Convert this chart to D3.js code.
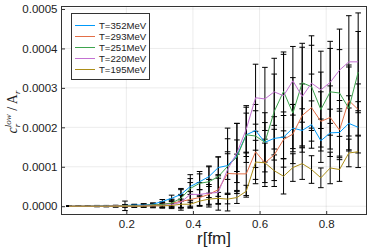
<!DOCTYPE html>
<html><head><meta charset="utf-8">
<script src="https://cdn.jsdelivr.net/npm/d3@7"></script>
<style>body{margin:0;background:#fff} svg{display:block}</style>
</head><body>
<svg id="c" width="374" height="249"></svg>
<script>
const r = [0.028,0.056,0.084,0.112,0.14,0.168,0.196,0.224,0.252,0.28,0.308,0.336,0.364,0.392,0.42,0.448,0.476,0.504,0.532,0.56,0.588,0.616,0.644,0.672,0.7,0.728,0.756,0.784,0.812,0.84,0.868,0.896];
const seriesNames = ["T=352MeV","T=293MeV","T=251MeV","T=220MeV","T=195MeV"];
const colors = ["#009afa","#e36f47","#3ea44e","#c371d2","#ac8e18"];

const v352 = [0,0,0,1e-6,1e-6,1e-6,2e-6,3e-6,3e-6,5e-6,1.2e-5,2.0e-5,3.0e-5,5.0e-5,6.2e-5,7.5e-5,9.8e-5,1.03e-4,1.28e-4,1.81e-4,1.92e-4,1.62e-4,1.72e-4,1.75e-4,1.98e-4,1.92e-4,2.07e-4,1.66e-4,1.86e-4,1.87e-4,2.10e-4,2.00e-4];
const e352 = [5e-7,5e-7,5e-7,1e-6,1e-6,1e-6,2e-6,2e-6,3e-6,3e-6,5e-6,8e-6,1.2e-5,2.0e-5,2.0e-5,2.5e-5,2.7e-5,3.5e-5,4.0e-5,5.5e-5,5.0e-5,5.0e-5,5.5e-5,5.5e-5,6.0e-5,5.5e-5,6.0e-5,5.5e-5,6.0e-5,6.0e-5,7.0e-5,6.5e-5];

const v293 = [0,0,0,0,0,1e-6,1e-6,1e-6,2e-6,3e-6,5e-6,8e-6,1.2e-5,1.7e-5,2.2e-5,3.0e-5,4.2e-5,8.3e-5,8.2e-5,8.2e-5,1.38e-4,1.10e-4,1.30e-4,1.69e-4,1.83e-4,2.30e-4,2.50e-4,2.15e-4,2.25e-4,1.93e-4,2.68e-4,2.45e-4];
const e293 = [5e-7,5e-7,5e-7,1e-6,1e-6,1e-6,2e-6,2e-6,3e-6,3e-6,5e-6,8e-6,1.5e-5,2.0e-5,2.0e-5,2.5e-5,3.5e-5,5.0e-5,5.0e-5,5.5e-5,7.0e-5,6.0e-5,6.5e-5,7.0e-5,7.5e-5,8.0e-5,8.5e-5,7.5e-5,8.0e-5,7.5e-5,9.0e-5,6.5e-5];

const v251 = [0,0,0,0,0,0,1e-6,1e-6,2e-6,3e-6,4e-6,8e-6,2.0e-5,4.5e-5,5.8e-5,6.2e-5,7.5e-5,1.01e-4,1.25e-4,1.81e-4,1.78e-4,1.62e-4,2.40e-4,2.91e-4,2.36e-4,3.13e-4,3.03e-4,2.45e-4,2.90e-4,2.87e-4,2.48e-4,3.40e-4];
const e251 = [5e-7,5e-7,5e-7,1e-6,1e-6,2e-6,1.2e-5,3e-6,4e-6,5e-6,7e-6,1.0e-5,2.5e-5,3.5e-5,3.0e-5,4.0e-5,5.0e-5,7.0e-5,8.5e-5,7.0e-5,8.0e-5,7.5e-5,9.5e-5,1.0e-4,9.0e-5,1.0e-4,1.05e-4,9.5e-5,1.1e-4,1.1e-4,1.05e-4,1.03e-4];

const v220 = [0,0,0,0,0,0,0,0,1e-6,1e-6,2e-6,4e-6,1.0e-5,3.0e-5,3.0e-5,3.3e-5,3.5e-5,9.3e-5,1.35e-4,1.95e-4,2.75e-4,2.72e-4,2.90e-4,2.80e-4,3.18e-4,2.78e-4,3.12e-4,2.95e-4,3.14e-4,3.45e-4,3.66e-4,3.66e-4];
const e220 = [5e-7,5e-7,5e-7,1e-6,1e-6,2e-6,3e-6,3e-6,4e-6,5e-6,7e-6,1.0e-5,2.0e-5,3.0e-5,3.0e-5,3.5e-5,4.5e-5,1.05e-4,7.5e-5,6.0e-5,8.5e-5,8.0e-5,8.5e-5,1.05e-4,8.7e-5,1.25e-4,1.2e-4,9.8e-5,1.04e-4,1.04e-4,1.17e-4,1.24e-4];

const v195 = [0,0,0,0,0,0,0,0,0,1e-6,1e-6,2e-6,5e-6,5e-6,1.3e-5,1.8e-5,2.0e-5,1.8e-5,2.2e-5,3.8e-5,1.12e-4,1.10e-4,9.0e-5,7.6e-5,9.8e-5,1.08e-4,9.3e-5,7.2e-5,9.7e-5,9.3e-5,1.35e-4,1.38e-4];
const e195 = [5e-7,5e-7,5e-7,5e-7,1e-6,1e-6,1e-6,2e-6,2e-6,3e-6,4e-6,5e-6,8e-6,1.0e-5,1.2e-5,1.5e-5,1.5e-5,1.2e-5,1.5e-5,1.5e-5,5.5e-5,5.0e-5,4.0e-5,4.5e-5,3.5e-5,4.0e-5,3.5e-5,2.5e-5,4.0e-5,3.0e-5,3.5e-5,4.0e-5];

const yTicks = [0,0.0001,0.0002,0.0003,0.0004,0.0005];
const yTickLabels = ["0.0000","0.0001","0.0002","0.0003","0.0004","0.0005"];
const xTicks = [0.2,0.4,0.6,0.8];
const xTickLabels = ["0.2","0.4","0.6","0.8"];

const values = [v352,v293,v251,v220,v195];
const errors = [e352,e293,e251,e220,e195];

const svg = d3.select("#c");
const L=61.5, R=366.5, T=6.5, B=214.5;
const x = d3.scaleLinear().domain([0.0054,0.921]).range([L,R]);
const y = d3.scaleLinear().domain([-0.000021,0.0005063]).range([B,T]);
const font = "'Liberation Sans', Arial, Helvetica, sans-serif";

// grid
const g = svg.append("g");
g.selectAll(".gx").data(xTicks).enter().append("line")
  .attr("x1",d=>x(d)).attr("x2",d=>x(d)).attr("y1",T).attr("y2",B)
  .attr("stroke","#000").attr("stroke-opacity",0.1).attr("stroke-width",0.8);
g.selectAll(".gy").data(yTicks).enter().append("line")
  .attr("x1",L).attr("x2",R).attr("y1",d=>y(d)).attr("y2",d=>y(d))
  .attr("stroke","#000").attr("stroke-opacity",0.1).attr("stroke-width",0.8);

// series
const plot = svg.append("g");
values.forEach((vals,s)=>{
  const errs = errors[s];
  const eb = plot.append("g");
  r.forEach((rv,i)=>{
    const lo = y(vals[i]-errs[i]), hi = y(vals[i]+errs[i]), cx = x(rv);
    eb.append("line").attr("x1",cx).attr("x2",cx).attr("y1",lo).attr("y2",hi).attr("stroke","#000").attr("stroke-width",1);
    eb.append("line").attr("x1",cx-2.8).attr("x2",cx+2.8).attr("y1",lo).attr("y2",lo).attr("stroke","#000").attr("stroke-width",1);
    eb.append("line").attr("x1",cx-2.8).attr("x2",cx+2.8).attr("y1",hi).attr("y2",hi).attr("stroke","#000").attr("stroke-width",1);
  });
});
values.forEach((vals,s)=>{
  const line = d3.line().x((d,i)=>x(r[i])).y(d=>y(d));
  plot.append("path").datum(vals).attr("d",line).attr("fill","none")
    .attr("stroke",colors[s]).attr("stroke-width",1);
});

// axes
const yAxis = d3.axisLeft(y).tickValues(yTicks).tickFormat((d,i)=>yTickLabels[i])
  .tickSizeInner(-3.5).tickSizeOuter(0).tickPadding(4);
const ya = svg.append("g").attr("transform",`translate(${L},0)`).call(yAxis);
const xAxis = d3.axisBottom(x).tickValues(xTicks).tickFormat((d,i)=>xTickLabels[i])
  .tickSizeInner(-3.5).tickSizeOuter(0).tickPadding(5.6);
const xa = svg.append("g").attr("transform",`translate(0,${B})`).call(xAxis);
[ya,xa].forEach(a=>{
  a.select(".domain").remove();
  a.selectAll(".tick line").attr("stroke","#333");
  a.selectAll(".tick text").style("font-family",font).style("font-size","11.5px").attr("fill","#222");
});

// frame
svg.append("rect").attr("x",L).attr("y",T).attr("width",R-L).attr("height",B-T)
  .attr("fill","none").attr("stroke","#333").attr("stroke-width",1);

// legend
const lg = svg.append("g");
lg.append("rect").attr("x",71.5).attr("y",13.5).attr("width",78).attr("height",66)
  .attr("fill","#fff").attr("stroke","#333").attr("stroke-width",1);
seriesNames.forEach((nm,i)=>{
  const cy = 25.5 + i*11;
  lg.append("line").attr("x1",75).attr("x2",95).attr("y1",cy).attr("y2",cy)
    .attr("stroke",colors[i]).attr("stroke-width",1);
  lg.append("text").attr("x",99).attr("y",cy+3.4).text(nm)
    .style("font-family",font).style("font-size","9.6px").attr("fill","#222");
});

// x label
svg.append("text").attr("x",(L+R)/2).attr("y",243.5).attr("text-anchor","middle")
  .style("font-family",font).style("font-size","17px").attr("fill","#222").text("r[fm]");

// y label
const yl = svg.append("text").attr("transform","translate(17,112) rotate(-90)")
  .attr("text-anchor","middle").attr("fill","#222")
  .style("font-family","'Liberation Serif','DejaVu Serif',serif").style("font-size","14px");
yl.append("tspan").style("font-style","italic").text("c");
yl.append("tspan").style("font-style","italic").style("font-size","9px").attr("dy",3).text("r");
yl.append("tspan").style("font-style","italic").style("font-size","9px").attr("dx",-3.5).attr("dy",-9).text("low");
yl.append("tspan").attr("dy",6).text(" / ");
yl.append("tspan").text("A");
yl.append("tspan").style("font-style","italic").style("font-size","9px").attr("dy",3).text("r");
</script>
</body></html>
